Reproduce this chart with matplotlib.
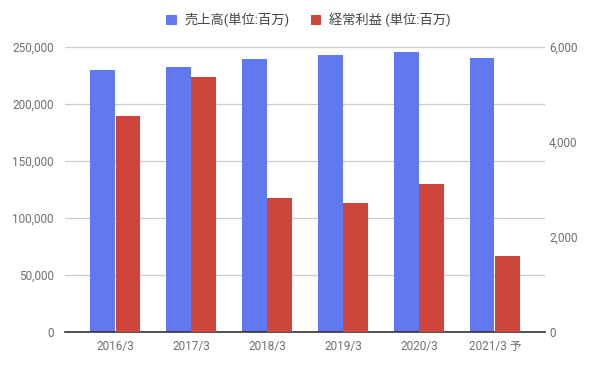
import numpy as np
import matplotlib.pyplot as plt

plt.rcParams['font.family'] = ['Roboto', 'Noto Sans CJK JP', 'DejaVu Sans']

# data
years = ["2016/3", "2017/3", "2018/3", "2019/3", "2020/3", "2021/3 予"]
sales = [229800, 232500, 239500, 243000, 245600, 240400]
profit = [4550, 5370, 2820, 2720, 3120, 1600]

blue = "#6079f1"
red = "#cd453a"
grey = "#707070"

fig = plt.figure(figsize=(5.93, 3.68), dpi=100)
ax = fig.add_axes([65 / 593, 36 / 368, 480 / 593, 285 / 368])
ax2 = ax.twinx()

x = np.arange(len(years))
w = 0.32
b1 = ax.bar(x - w / 2 - 0.005, sales, width=w, color=blue, label="売上高(単位:百万)", zorder=3)
b2 = ax2.bar(x + w / 2 + 0.005, profit, width=w, color=red, label="経常利益 (単位:百万)", zorder=3)

ax.set_xlim(-0.66, 5.66)
ax.set_ylim(0, 250000)
ax2.set_ylim(0, 6000)
ax.set_yticks(np.arange(0, 250001, 50000))
ax2.set_yticks(np.arange(0, 6001, 2000))
ax.set_yticklabels([f"{v:,}" for v in range(0, 250001, 50000)])
ax2.set_yticklabels([f"{v:,}" for v in range(0, 6001, 2000)])
ax.set_xticks(x)
ax.set_xticklabels(years)

ax.grid(axis="y", color="#cccccc", linewidth=0.9, zorder=0)
for a in (ax, ax2):
    for s in a.spines.values():
        s.set_visible(False)
    a.tick_params(length=0, colors=grey, labelsize=8.5)
ax.spines["bottom"].set_visible(True)
ax.spines["bottom"].set_color("#333333")
ax.spines["bottom"].set_linewidth(1.2)
ax.spines["bottom"].set_zorder(5)
ax.tick_params(axis="y", pad=8)
ax2.tick_params(axis="y", pad=3)
ax.tick_params(axis="x", pad=6)
ax2.set_zorder(ax.get_zorder() + 1)
ax2.patch.set_visible(False)

fig.legend([b1, b2], [b1.get_label(), b2.get_label()], loc="center",
           bbox_to_anchor=(0.52, 1 - 20 / 368), ncol=2, frameon=False,
           fontsize=9.5, handlelength=0.8, handleheight=0.8, columnspacing=1.6,
           handletextpad=0.6, labelcolor="#444444")

fig.savefig("out.png", dpi=100)
